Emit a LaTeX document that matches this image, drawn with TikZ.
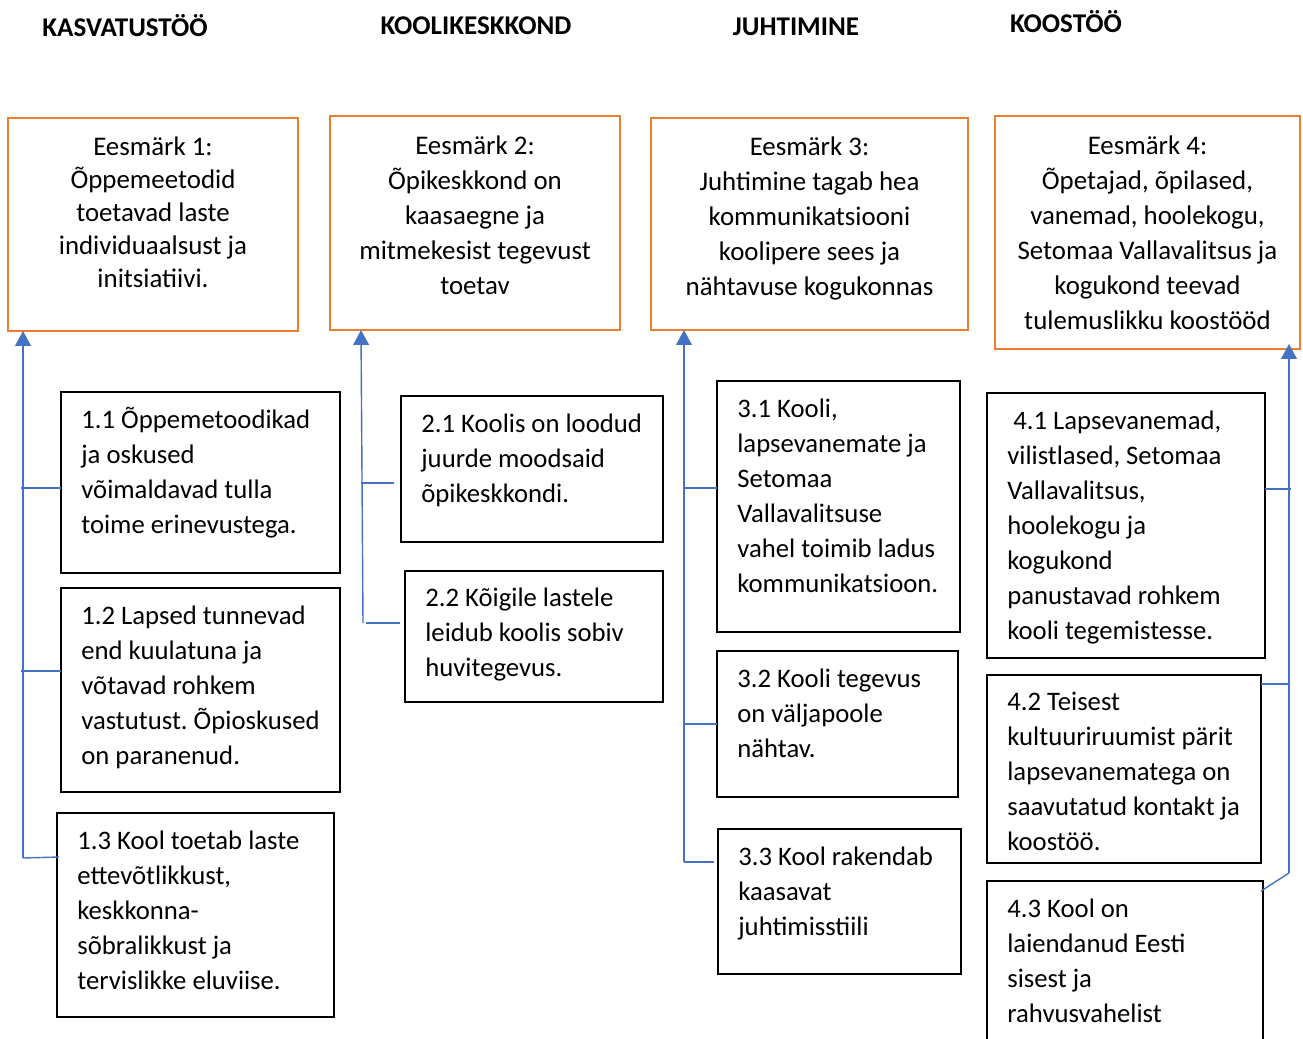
\documentclass[tikz,border=0pt]{standalone}
\usepackage{fontspec}
\setmainfont{Carlito}
\usetikzlibrary{arrows.meta,calc}
\definecolor{borange}{HTML}{ED7D31}
\definecolor{lblue}{HTML}{4472C4}
\newcommand\tstrut{\rule{0pt}{13.9pt}}
\frenchspacing
\begin{document}
\begin{tikzpicture}[x=0.02cm,y=-0.02cm,
 frame/.style 2 args={anchor=north west, inner sep=0pt, outer sep=0pt, minimum width=#1*0.02cm, minimum height=#2*0.02cm},
 goal/.style={draw=borange, line width=1.4pt},
 task/.style={draw=black, line width=1.1pt},
 txt/.style={anchor=north west, inner sep=0pt, align=left, font=\fontsize{15.2pt}{19.92pt}\selectfont},
 gtxt/.style={anchor=north, inner sep=0pt, align=center, font=\fontsize{15.3pt}{19.92pt}\selectfont},
 head/.style={anchor=base, inner sep=0pt, font=\bfseries\fontsize{15.4pt}{17pt}\selectfont},
 link/.style={draw=lblue, line width=0.8pt},
 up/.style={link, -{Triangle[width=9pt,length=8.5pt]}}]
\clip (0,0) rectangle (1303,1039);
% headers
\node[head] (h1) at (125,36) {KASVATUSTÖÖ};
\node[head] (h2) at (476,34) {KOOLIKESKKOND};
\node[head] (h3) at (796,35) {JUHTIMINE};
\node[head] (h4) at (1066,32) {KOOSTÖÖ};
% goals
\node[frame={290}{213}, goal] (g1) at (8,118) {};
\node[gtxt, font=\fontsize{15.3pt}{18.8pt}\selectfont] (g1t) at (153,130.5) {\tstrut Eesmärk 1:\\Õppemeetodid\\toetavad laste\\individuaalsust ja\\initsiatiivi.};
\node[frame={290}{214}, goal] (g2) at (330,116) {};
\node[gtxt] (g2t) at (475,129.5) {\tstrut Eesmärk 2:\\Õpikeskkond on\\kaasaegne ja\\mitmekesist tegevust\\toetav};
\node[frame={317}{212}, goal] (g3) at (651,118) {};
\node[gtxt] (g3t) at (809.5,130.5) {\tstrut Eesmärk 3:\\Juhtimine tagab hea\\kommunikatsiooni\\koolipere sees ja\\nähtavuse kogukonnas};
\node[frame={305}{233}, goal] (g4) at (995,116) {};
\node[gtxt] (g4t) at (1147.5,129.5) {\tstrut Eesmärk 4:\\Õpetajad, õpilased,\\vanemad, hoolekogu,\\Setomaa Vallavalitsus ja\\kogukond teevad\\tulemuslikku koostööd};
% tasks
\node[frame={279}{181}, task] (b11) at (61,392) {};
\node[txt] (b11t) at (81,403.5) {\tstrut 1.1 Õppemetoodikad\\ja oskused\\võimaldavad tulla\\toime erinevustega.};
\node[frame={279}{204}, task] (b12) at (61,588) {};
\node[txt] (b12t) at (81,599.5) {\tstrut 1.2 Lapsed tunnevad\\end kuulatuna ja\\võtavad rohkem\\vastutust. Õpioskused\\on paranenud.};
\node[frame={277}{204}, task] (b13) at (57,813) {};
\node[txt] (b13t) at (77,824.5) {\tstrut 1.3 Kool toetab laste\\ettevõtlikkust,\\keskkonna-\\sõbralikkust ja\\tervislikke eluviise.};
\node[frame={262}{146}, task] (b21) at (401,396) {};
\node[txt] (b21t) at (421,407.5) {\tstrut 2.1 Koolis on loodud\\juurde moodsaid\\õpikeskkondi.};
\node[frame={258}{131}, task] (b22) at (405,571) {};
\node[txt] (b22t) at (425,581.5) {\tstrut 2.2 Kõigile lastele\\leidub koolis sobiv\\huvitegevus.};
\node[frame={243}{251}, task] (b31) at (717,381) {};
\node[txt] (b31t) at (737,392.5) {\tstrut 3.1 Kooli,\\lapsevanemate ja\\Setomaa\\Vallavalitsuse\\vahel toimib ladus\\kommunikatsioon.};
\node[frame={241}{146}, task] (b32) at (717,651) {};
\node[txt] (b32t) at (737,662.5) {\tstrut 3.2 Kooli tegevus\\on väljapoole\\nähtav.};
\node[frame={243}{145}, task] (b33) at (718,829) {};
\node[txt] (b33t) at (738,840.5) {\tstrut 3.3 Kool rakendab\\kaasavat\\juhtimisstiili};
\node[frame={278}{265}, task] (b41) at (987,393) {};
\node[txt] (b41t) at (1007,404.5) {\tstrut\hspace*{3.4pt}4.1 Lapsevanemad,\\vilistlased, Setomaa\\Vallavalitsus,\\hoolekogu ja\\kogukond\\panustavad rohkem\\kooli tegemistesse.};
\node[frame={274}{188}, task] (b42) at (987,675) {};
\node[txt] (b42t) at (1007,685.5) {\tstrut 4.2 Teisest\\kultuuriruumist pärit\\lapsevanematega on\\saavutatud kontakt ja\\koostöö.};
\node[frame={276}{190}, task] (b43) at (987,881) {};
\node[txt] (b43t) at (1007,892.5) {\tstrut 4.3 Kool on\\laiendanud Eesti\\sisest ja\\rahvusvahelist};
% connectors column 1
\coordinate (v1) at (23,858);
\draw[up] (v1) -- (v1 |- g1.south);
\draw[link] ($(b11.north west)+(0,96)$) -- ++(-40,0);
\draw[link] ($(b12.north west)+(0,83)$) -- ++(-40,0);
\draw[link] (v1) -- ($(b13.north west)+(2,44)$);
% column 2
\coordinate (v2) at (363,623);
\draw[up] (v2) -- ($(g2.south west)+(31,0)$);
\draw[link] ($(b21.north west)+(-7,87)$) -- ++(-33,0);
\draw[link] ($(b22.north west)+(-5,52)$) -- ++(-34,0);
% column 3
\coordinate (v3) at (684,862);
\draw[up] (v3) -- (v3 |- g3.south);
\draw[link] ($(b31.north west)+(0,107)$) -- ++(-33,0);
\draw[link] ($(b32.north west)+(0,73)$) -- ++(-33,0);
\draw[link] ($(b33.north west)+(-4,33)$) -- (v3);
% column 4
\coordinate (v4) at (1289,873);
\draw[up] (v4) -- ($(v4 |- g4.south)+(0,-5)$);
\draw[link] ($(b41.north east)+(0,96)$) -- ++(26,0);
\draw[link] ($(b42.north east)+(0,9)$) -- ++(28,0);
\draw[link] (v4) -- ($(b43.north east)+(-2,10)$);
\end{tikzpicture}
\end{document}
